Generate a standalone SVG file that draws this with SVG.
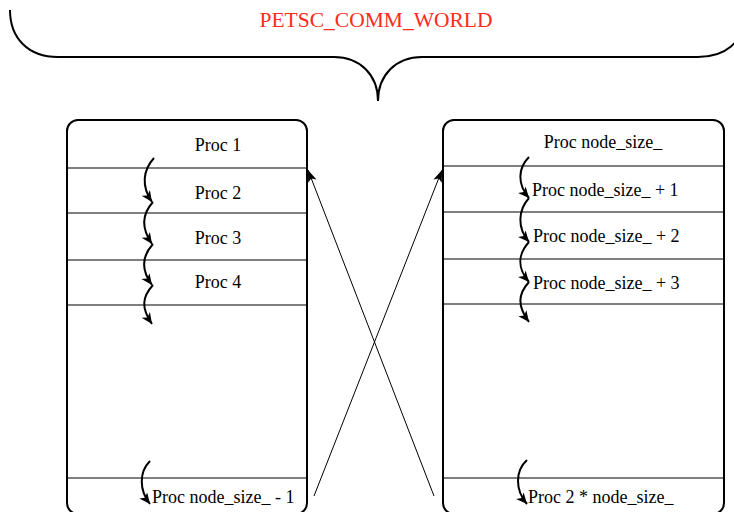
<svg xmlns="http://www.w3.org/2000/svg" width="734" height="512" viewBox="0 0 734 512">
<defs>
<style>
.t{font-family:"Liberation Serif","Times New Roman",serif;font-size:18px;fill:#000}
.title{font-family:"Liberation Serif","Times New Roman",serif;font-size:21.5px;fill:#ff2a1a}
.box{fill:#fff;stroke:#000;stroke-width:2}
.row{stroke:#000;stroke-width:1.2;fill:none}
.wave{stroke:#000;stroke-width:2;fill:none;marker-end:url(#ah)}
.diag{stroke:#000;stroke-width:1;fill:none;marker-end:url(#ahd)}
</style>
<marker id="ah" markerWidth="14" markerHeight="12" refX="11" refY="5" orient="auto" markerUnits="userSpaceOnUse">
<path d="M0,0 L11,5 L0,10 L3,5 Z" fill="#000"/>
</marker>
<marker id="ahd" markerWidth="14" markerHeight="10" refX="12" refY="4.5" orient="auto" markerUnits="userSpaceOnUse">
<path d="M0,0 L12,4.5 L0,9 L3,4.5 Z" fill="#000"/>
</marker>
</defs>
<g id="brace">
<path d="M10,10 C10,38 28,57 58,57 L334,57 C360,57 378,75 378,101 C378,75 396,57 422,57 L698,57 C726,57 742,42 746,18" fill="none" stroke="#000" stroke-width="2"/>
<text class="title" x="376" y="27" text-anchor="middle">PETSC_COMM_WORLD</text>
</g>
<g id="left-box">
<rect class="box" x="67" y="120" width="240" height="394" rx="11"/>
<line class="row" x1="67" y1="168" x2="307" y2="168"/>
<line class="row" x1="67" y1="213" x2="307" y2="213"/>
<line class="row" x1="67" y1="260" x2="307" y2="260"/>
<line class="row" x1="67" y1="305" x2="307" y2="305"/>
<line class="row" x1="67" y1="478" x2="307" y2="478"/>
<text class="t" x="218" y="151" text-anchor="middle">Proc 1</text>
<text class="t" x="218" y="199" text-anchor="middle">Proc 2</text>
<text class="t" x="218" y="244" text-anchor="middle">Proc 3</text>
<text class="t" x="218" y="288" text-anchor="middle">Proc 4</text>
<text class="t" x="152" y="503">Proc node_size_ - 1</text>
</g>
<g id="right-box">
<rect class="box" x="443" y="120" width="281" height="394" rx="11"/>
<line class="row" x1="443" y1="166" x2="724" y2="166"/>
<line class="row" x1="443" y1="212" x2="724" y2="212"/>
<line class="row" x1="443" y1="259" x2="724" y2="259"/>
<line class="row" x1="443" y1="304" x2="724" y2="304"/>
<line class="row" x1="443" y1="478" x2="724" y2="478"/>
<text class="t" x="603" y="148" text-anchor="middle">Proc node_size_</text>
<text class="t" x="532" y="196">Proc node_size_ + 1</text>
<text class="t" x="533" y="242">Proc node_size_ + 2</text>
<text class="t" x="533" y="289">Proc node_size_ + 3</text>
<text class="t" x="528" y="503">Proc 2 * node_size_</text>
</g>
<g id="connectors">
<path class="wave" d="M154,158 C143,170 141,186 152,202"/>
<path class="wave" d="M153,202 C142,214 141,228 152,244"/>
<path class="wave" d="M153,244 C142,256 141,270 152,285"/>
<path class="wave" d="M153,285 C142,297 141,308 152,324"/>
<path class="wave" d="M150,461 C139,472 139,490 150,504"/>
<path class="wave" d="M529,157 C518,168 517,184 529,198"/>
<path class="wave" d="M529,198 C518,210 517,228 529,242"/>
<path class="wave" d="M529,242 C518,254 517,268 529,282"/>
<path class="wave" d="M529,282 C518,294 517,306 529,322"/>
<path class="wave" d="M527,460 C515,471 515,490 527,504"/>
<path class="diag" d="M314,496 L442,170"/>
<path class="diag" d="M434,496 L308,170"/>
</g>
</svg>
